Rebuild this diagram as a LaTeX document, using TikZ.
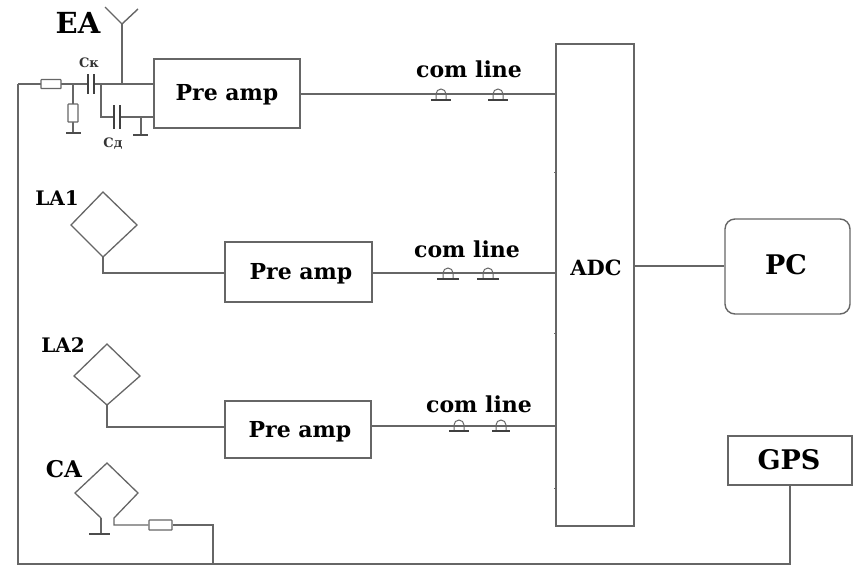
\documentclass[tikz,border=0pt]{standalone}
\usepackage{fontspec}
\setmainfont{DejaVu Serif}
\usetikzlibrary{calc}
\definecolor{ln}{HTML}{666666}
\tikzset{x=1pt,y=-1pt,
 wire/.style={draw=ln,line width=1.4pt,line join=miter},
 thinw/.style={draw=ln,line width=1.3pt,line join=miter},
 boxn/.style={draw=ln,line width=1.4pt,rectangle,inner sep=0pt,fill=white,text=black},
 lab/.style={inner sep=0pt,font=\bfseries\fontsize{#1}{#1}\selectfont,text=black},
 small/.style={inner sep=0pt,font=\bfseries\fontsize{13}{13}\selectfont,text=black!80},
 res/.style={draw=ln,line width=1.2pt,rectangle,inner sep=0pt,fill=white,rounded corners=0.6pt},
 plate/.style={draw=black!75,line width=1.6pt},
 gnd/.style={draw=black!70,line width=2pt},
}
\newcommand{\domeline}[3]{% centre x, bar half-width, y of bar
 \draw[draw=ln,line width=1pt] (#1-5,#3) -- (#1-5,#3-6) arc[start angle=180,end angle=0,x radius=5pt,y radius=5pt] -- (#1+5,#3);
 \draw[draw=black!75,line width=1.5pt] (#1-#2,#3) -- (#1+#2,#3);
}
\begin{document}
\begin{tikzpicture}
\useasboundingbox (0,0) rectangle (853,568);
% boxes
\node[boxn,minimum width=146pt,minimum height=69pt] (pa1) at (227,93.5) {};
\node[boxn,minimum width=147pt,minimum height=60pt] (pa2) at (298.5,272) {};
\node[boxn,minimum width=146pt,minimum height=57pt] (pa3) at (298,429.5) {};
\node[boxn,minimum width=78pt,minimum height=482pt] (adc) at (595,285) {};
\node[boxn,minimum width=125pt,minimum height=95pt,rounded corners=10pt] (pc) at (787.5,266.5) {};
\node[boxn,minimum width=124pt,minimum height=49pt] (gps) at (790,460.5) {};
% labels
\node[lab=29] at (78,23) {EA};
\node[lab=22] at (227,95) {Pre amp};
\node[lab=22] at (301,274) {Pre amp};
\node[lab=22] at (300,432) {Pre amp};
\node[lab=22] at (469,69) {com line};
\node[lab=22] at (467,249) {com line};
\node[lab=22] at (479,404) {com line};
\node[lab=21] at (596,268) {ADC};
\node[lab=27] at (786,265) {PC};
\node[lab=27] at (789,460) {GPS};
\node[lab=20] at (57,198) {LA1};
\node[lab=20] at (63,345) {LA2};
\node[lab=23] at (64,469) {CA};
\node[small] at (89,63) {Cк};
\node[small] at (113,144) {Cд};
% EA antenna
\coordinate (ant) at (122,24);
\coordinate (j1) at (122,84);
\draw[wire] (105,7) -- (ant) -- (138,9);
\draw[wire] (ant) -- (j1);
% EA input network
\coordinate (lft) at (18,84);
\coordinate (cL) at (88,84);
\coordinate (cR) at (94,84);
\draw[wire] (lft) -- (cL);
\draw[wire] (cR) -- (pa1.west |- cR);
\draw[plate] (88,74) -- (88,94);
\draw[plate] (94,74) -- (94,94);
\node[res,minimum width=20pt,minimum height=9pt] (r1) at (51,84) {};
\draw[wire] (73,84) -- (73,133);
\node[res,minimum width=10pt,minimum height=18pt] (r2) at (73,113) {};
\draw[gnd] (66,133) -- (81,133);
\draw[wire] (101,84) -- (101,117) -- (114,117);
\draw[wire] (120,117) -- (pa1.west |- 0,117);
\draw[plate] (114,105) -- (114,129);
\draw[plate] (120,105) -- (120,129);
\draw[wire] (141,117) -- (141,135);
\draw[gnd] (133,135) -- (148,135);
% signal lines
\draw[wire] (pa1.east |- 0,94) -- (adc.west |- 0,94);
\draw[wire] (pa2.east |- 0,273) -- (adc.west |- 0,273);
\draw[wire] (pa3.east |- 0,426) -- (adc.west |- 0,426);
\draw[wire] (adc.east |- 0,266) -- (pc.west |- 0,266);
% adc ticks
\foreach \y in {172,333,488} \draw[draw=ln,line width=1pt] (554,\y) -- (556,\y);
% com line symbols
\domeline{441}{10}{100}
\domeline{498}{10}{100}
\domeline{448}{11}{279}
\domeline{488}{11}{279}
\domeline{459}{10}{431}
\domeline{501}{9}{431}
% LA1
\draw[thinw] (103,192) -- (137,225) -- (103,257) -- (71,225) -- cycle;
\draw[wire] (103,257) -- (103,273) -- (pa2.west |- 0,273);
% LA2
\draw[thinw] (107,344) -- (140,376) -- (107,405) -- (74,376) -- cycle;
\draw[wire] (107,405) -- (107,427) -- (pa3.west |- 0,427);
% CA
\node[res,minimum width=23pt,minimum height=10pt] (r3) at (160.5,525) {};
\draw[thinw] (101,518) -- (75,493) -- (107,463) -- (138,493) -- (114,518) -- (114,525) -- (r3.west);
\draw[wire] (101,518) -- (101,533);
\draw[gnd,line width=2.4pt] (89,534) -- (110,534);
\coordinate (bus) at (213,564);
\draw[wire] (r3.east) -- (213,525) -- (bus);
% return bus
\draw[wire] (gps.south -| 790,0) -- (790,564) -- (18,564) -- (lft);
\end{tikzpicture}
\end{document}
